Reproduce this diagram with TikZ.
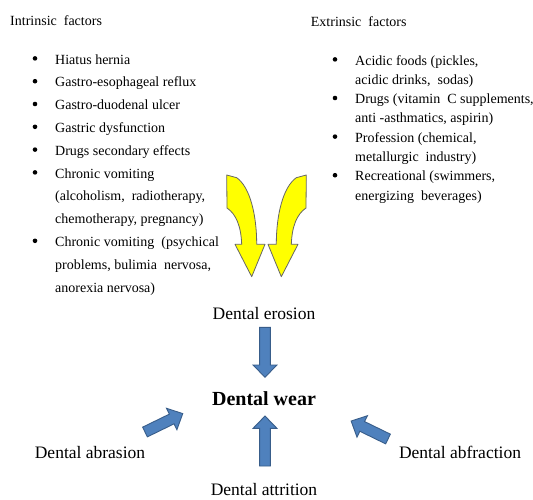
\documentclass[tikz,border=0pt]{standalone}
\usepackage{fontspec}
\setmainfont{Liberation Serif}
\definecolor{wearblue}{HTML}{4F81BD}
\definecolor{wearblueline}{HTML}{385D8A}
\definecolor{arrowyellow}{HTML}{FFFF00}
\tikzset{
  lab/.style={font=\fontsize{14}{17}\selectfont, anchor=base west, inner sep=0pt},
  bul/.style={circle, fill=black, inner sep=0pt, minimum size=4.6pt, yshift=5.6pt},
  big/.style={font=\fontsize{17.5}{21}\selectfont, anchor=base, inner sep=0pt},
  bigbold/.style={font=\fontsize{20}{24}\selectfont\bfseries, anchor=base, inner sep=0pt},
  yarrow/.style={fill=arrowyellow, draw=black!60, line width=0.8pt, line join=round},
  barrow/.style={fill=wearblue, draw=wearblueline, line width=0.9pt, line join=miter},
}
\newcommand\blockarrow[3]{%
  \draw[barrow, shift={#1}, rotate=#2] (0,-5.4) -- (#3-12.3,-5.4) -- (#3-12.3,-11.9) -- (#3,0)
    -- (#3-12.3,11.9) -- (#3-12.3,5.4) -- (0,5.4) -- cycle;}
\begin{document}
\begin{tikzpicture}[x=1pt,y=-1pt]
\fill[white] (0,0) rectangle (533,499);
\useasboundingbox (0,0) rectangle (533,499);

% headings
\node[lab] (intr) at (10,25) {Intrinsic\ \ factors};
\node[lab] (extr) at (310.7,26) {Extrinsic\ \ factors};

% intrinsic list
\node[bul] (ib1) at (35,64) {};
\node[lab] (it1) at (55,64) {Hiatus hernia};
\node[bul] (ib2) at (35,86.8) {};
\node[lab] (it2) at (55,86.8) {Gastro-esophageal reflux};
\node[bul] (ib3) at (35,109.6) {};
\node[lab] (it3) at (55,109.6) {Gastro-duodenal ulcer};
\node[bul] (ib4) at (35,132.4) {};
\node[lab] (it4) at (55,132.4) {Gastric dysfunction};
\node[bul] (ib5) at (35,155.2) {};
\node[lab] (it5) at (55,155.2) {Drugs secondary effects};
\node[bul] (ib6) at (35,178) {};
\node[lab] (it6) at (55,178) {Chronic vomiting};
\node[lab] (it6b) at (55,200.8) {(alcoholism,\ \ radiotherapy,};
\node[lab] (it6c) at (55,223.6) {chemotherapy, pregnancy)};
\node[bul] (ib7) at (35,246.4) {};
\node[lab] (it7) at (55,246.4) {Chronic vomiting\ \ (psychical};
\node[lab] (it7b) at (55,269.2) {problems, bulimia\ \ nervosa,};
\node[lab] (it7c) at (55,292) {anorexia nervosa)};

% extrinsic list
\node[bul] (eb1) at (335,65) {};
\node[lab] (et1) at (355,65) {Acidic foods (pickles,};
\node[lab] (et1b) at (355,84.3) {acidic drinks,\ \ sodas)};
\node[bul] (eb2) at (335,103.6) {};
\node[lab] (et2) at (355,103.6) {Drugs (vitamin\ \ C supplements,};
\node[lab] (et2b) at (355,122.9) {anti -asthmatics, aspirin)};
\node[bul] (eb3) at (335,142.2) {};
\node[lab] (et3) at (355,142.2) {Profession (chemical,};
\node[lab] (et3b) at (355,161.5) {metallurgic\ \ industry)};
\node[bul] (eb4) at (335,180.8) {};
\node[lab] (et4) at (355,180.8) {Recreational (swimmers,};
\node[lab] (et4b) at (355,200.1) {energizing\ \ beverages)};

% yellow curved arrows
\draw[yarrow] (226.7,175) -- (236.7,177.7) .. controls (250,187) and (256.7,215) .. (256.7,244.3)
  -- (265,244.3) -- (251.7,276.7) -- (235,244.3) -- (241.7,244.3)
  .. controls (241,226) and (236,214) .. (227,208) -- cycle;
\begin{scope}[xshift=533pt, xscale=-1]
\draw[yarrow] (226.7,175) -- (236.7,177.7) .. controls (250,187) and (256.7,215) .. (256.7,244.3)
  -- (265,244.3) -- (251.7,276.7) -- (235,244.3) -- (241.7,244.3)
  .. controls (241,226) and (236,214) .. (227,208) -- cycle;
\end{scope}

% labels
\node[big] (erosion) at (264,319.3) {Dental erosion};
\node[bigbold] (wear) at (264,405) {Dental wear};
\node[big] (abrasion) at (90,458.3) {Dental abrasion};
\node[big] (abfraction) at (460,458.3) {Dental abfraction};
\node[big] (attrition) at (264,495) {Dental attrition};

% blue block arrows
\blockarrow{(265,327.3)}{-90}{50}
\blockarrow{(265,466)}{90}{50}
\blockarrow{(145,432)}{26}{42}
\blockarrow{(388,439)}{154}{41}
\end{tikzpicture}
\end{document}
